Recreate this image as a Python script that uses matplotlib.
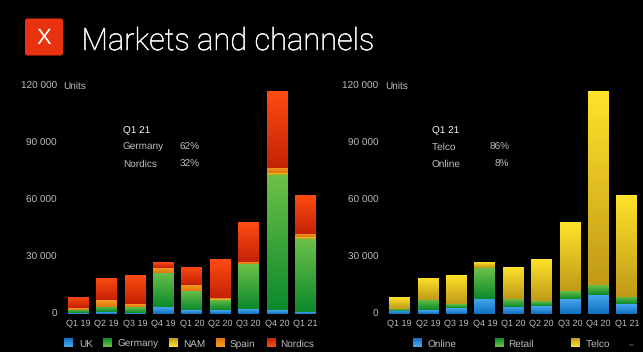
import numpy as np
import matplotlib
matplotlib.use("Agg")
import matplotlib.pyplot as plt
import matplotlib.patheffects as pe
from matplotlib.colors import LinearSegmentedColormap
from matplotlib.patches import FancyBboxPatch

# ====== data ======
QUARTERS = ["Q1 19", "Q2 19", "Q3 19", "Q4 19", "Q1 20", "Q2 20", "Q3 20", "Q4 20", "Q1 21"]
Y_TICKS = [0, 30000, 60000, 90000, 120000]
Y_LABELS = ["0", "30 000", "60 000", "90 000", "120 000"]

UK = [400, 700, 500, 3300, 1900, 1750, 2450, 1900, 1000]
GERMANY = [1600, 2800, 3000, 18000, 10000, 5700, 23500, 70800, 38200]
NAM = [100, 100, 100, 200, 100, 100, 100, 1100, 1100]
SPAIN = [700, 3600, 1500, 2500, 2900, 850, 1250, 2900, 1700]
NORDICS = [5800, 11700, 15000, 3000, 9600, 20100, 20700, 40000, 20100]

ONLINE = [1600, 1900, 3100, 7900, 3700, 4000, 7900, 10000, 4900]
RETAIL = [800, 5300, 1900, 16100, 4000, 2500, 4000, 5000, 3700]
TELCO = [6200, 11700, 15100, 3000, 16800, 22000, 36100, 101700, 53500]

# ====== colours (top of gradient, bottom of gradient) ======
BLUE = ("#4aa8f0", "#1070c0")
GREEN = ("#6cc048", "#0c8a2c")
YELLOW = ("#ffe22a", "#c09a18")
ORANGE = ("#f59a20", "#e07810")
RED = ("#ff4c12", "#c42205")
GRAY = "#bcbcbc"

W, H = 643, 352
plt.rcParams['font.family'] = ['Liberation Sans', 'DejaVu Sans']
plt.rcParams['text.hinting'] = 'no_hinting'
plt.rcParams['text.hinting_factor'] = 1


def gradient_cmap(colors):
    return LinearSegmentedColormap.from_list("grad", [colors[1], colors[0]])


def stacked(ax, series):
    bottom = np.zeros(len(QUARTERS))
    x = np.arange(len(QUARTERS))
    ramp = np.linspace(1, 0, 64).reshape(-1, 1)
    for values, colors in series:
        values = np.array(values, dtype=float)
        bars = ax.bar(x, values, width=0.73, bottom=bottom, color=colors[1], linewidth=0)
        for bar in bars:
            b = bar.get_bbox()
            img = ax.imshow(ramp, extent=(b.x0, b.x1, b.y0, b.y1), cmap=gradient_cmap(colors),
                            vmin=0, vmax=1, aspect='auto', zorder=2, interpolation='bilinear')
            img.set_clip_path(bar)
        bottom += values
    ax.set_xlim(-0.5, 8.5)
    ax.set_ylim(0, 120000)
    ax.set_xticks(x, QUARTERS)
    ax.set_yticks(Y_TICKS, Y_LABELS)
    ax.tick_params(axis='x', length=0, pad=3.4, labelsize=6.5, labelcolor=GRAY)
    ax.tick_params(axis='y', length=0, pad=5, labelsize=7.1, labelcolor=GRAY)
    ax.set_facecolor('black')
    for spine in ax.spines.values():
        spine.set_visible(False)


def px_axes(fig, left, right, top, bottom):
    return fig.add_axes([left / W, 1 - bottom / H, (right - left) / W, (bottom - top) / H])


def legend_item(overlay, sq_x, text_x, label, colors):
    ramp = np.linspace(0, 1, 32).reshape(-1, 1)
    overlay.imshow(ramp, extent=(sq_x, sq_x + 8.5, 347.5, 339), cmap=gradient_cmap(colors),
                   vmin=0, vmax=1, aspect='auto', interpolation='bilinear')
    overlay.text(text_x, 346.8, label, color=GRAY, fontsize=7.4, va='baseline', ha='left')


def callout(overlay, x, pct_x, rows):
    overlay.text(x, 133, "Q1 21", color="#f4f4f4", fontsize=7.2, va='baseline')
    for y, (name, pct) in zip([150, 166.5], rows):
        overlay.text(x, y, name, color=GRAY, fontsize=7.4, va='baseline')
        overlay.text(pct_x, y, pct, color=GRAY, fontsize=7.4, va='baseline', ha='right')


def main():
    fig = plt.figure(figsize=(W / 100, H / 100), dpi=100, facecolor='black')

    ax_left = px_axes(fig, 64, 319.6, 85, 313.7)
    stacked(ax_left, [(UK, BLUE), (GERMANY, GREEN), (NAM, YELLOW), (SPAIN, ORANGE), (NORDICS, RED)])
    ax_right = px_axes(fig, 385.5, 641, 85, 313.7)
    stacked(ax_right, [(ONLINE, BLUE), (RETAIL, GREEN), (TELCO, YELLOW)])

    # overlay in pixel coordinates for the title, logo, legends, callouts
    overlay = fig.add_axes([0, 0, 1, 1], facecolor='none')
    overlay.axis('off')

    overlay.add_patch(FancyBboxPatch((25, 18.5), 38, 37, boxstyle="round,pad=0,rounding_size=2.5",
                                     facecolor="#e8320f", edgecolor="none"))
    overlay.text(43.7, 44.3, "X", color="white", fontsize=16, ha='center', va='baseline')
    title = overlay.text(81.5, 50, "Markets and channels", color="white", fontsize=22.2,
                         family=['Roboto', 'Liberation Sans'], fontweight='light', ha='left', va='baseline')
    # Light weight renders too dim at this size, thicken it a little
    title.set_path_effects([pe.withStroke(linewidth=0.35, foreground="white")])

    overlay.text(63, 89, "Units", color=GRAY, fontsize=7, va='baseline')
    overlay.text(385, 89, "Units", color=GRAY, fontsize=7, va='baseline')

    callout(overlay, 122.7, 200, [("Germany", "62%"), ("Nordics", "32%")])
    callout(overlay, 432, 509.3, [("Telco", "86%"), ("Online", "8%")])

    legend_item(overlay, 64.3, 79, "UK", BLUE)
    legend_item(overlay, 103, 117, "Germany", GREEN)
    legend_item(overlay, 169.3, 183.3, "NAM", YELLOW)
    legend_item(overlay, 216, 230, "Spain", ORANGE)
    legend_item(overlay, 266.7, 280, "Nordics", RED)
    legend_item(overlay, 413.3, 427.3, "Online", BLUE)
    legend_item(overlay, 494.7, 508.3, "Retail", GREEN)
    legend_item(overlay, 571, 585.7, "Telco", YELLOW)
    overlay.text(631, 344.5, "–", color=GRAY, fontsize=6, ha='center', va='center')

    overlay.set_xlim(0, W)
    overlay.set_ylim(H, 0)

    fig.savefig("out.png", dpi=100, facecolor='black')


if __name__ == "__main__":
    main()
